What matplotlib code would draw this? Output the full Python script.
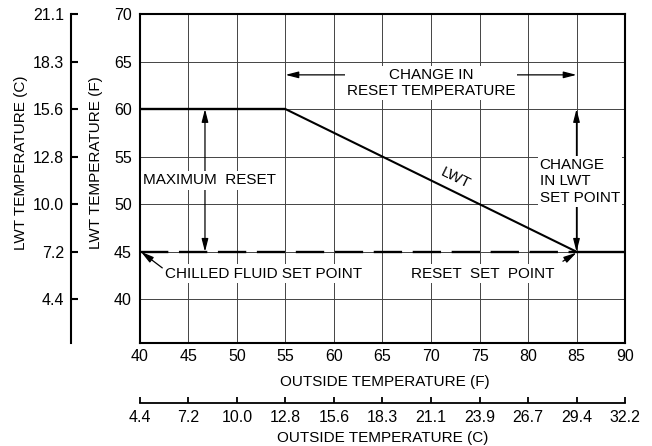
import matplotlib
matplotlib.use('Agg')
import matplotlib.pyplot as plt

plt.rcParams['font.family'] = ['Liberation Sans', 'DejaVu Sans']
plt.rcParams['font.size'] = 11
plt.rcParams['xtick.labelsize'] = 11.5
plt.rcParams['ytick.labelsize'] = 11.5

# outside temperature ticks (F) and Celsius equivalents
out_f = [40, 45, 50, 55, 60, 65, 70, 75, 80, 85, 90]
out_c = ['4.4', '7.2', '10.0', '12.8', '15.6', '18.3', '21.1', '23.9', '26.7', '29.4', '32.2']
# leaving water temperature ticks (F) and Celsius equivalents
lwt_f = [40, 45, 50, 55, 60, 65, 70]
lwt_c = ['4.4', '7.2', '10.0', '12.8', '15.6', '18.3', '21.1']

# LWT reset schedule
lwt_x = [40, 55, 85, 90]
lwt_y = [60, 60, 45, 45]
set_point = 45
max_lwt = 60
reset_start = 55
reset_end = 85

fig = plt.figure(figsize=(6.52, 4.46), dpi=100)
ax = fig.add_axes([0.2147, 0.2309, 0.7439, 0.7377])
ax.set_xlim(40, 90)
ax.set_ylim(35.4, 70)
ax.set_xticks(out_f)
ax.set_yticks(lwt_f)
ax.grid(True, color='#444444', lw=0.7)
ax.tick_params(length=0)
ax.tick_params(axis='x', pad=4)
ax.tick_params(axis='y', pad=6)
for s in ax.spines.values():
    s.set_linewidth(1.5)

ax.set_xlabel('OUTSIDE TEMPERATURE (F)')
ax.xaxis.set_label_coords(0.505, -0.097)
ax.set_ylabel('LWT TEMPERATURE (F)')
ax.yaxis.set_label_coords(-0.076, 0.547)

# main curve
ax.plot(lwt_x[:2], lwt_y[:2], color='black', lw=1.7, solid_capstyle='butt')
ax.plot(lwt_x[1:3], lwt_y[1:3], color='black', lw=1.5)
ax.plot(lwt_x[2:], lwt_y[2:], color='black', lw=1.7, solid_capstyle='butt')
ax.plot([40, reset_end], [set_point, set_point], color='black', lw=1.7,
        dashes=(12, 4.5), dash_capstyle='butt')

head = dict(arrowstyle='<|-|>,head_length=0.7,head_width=0.18', color='black',
            lw=0.9, shrinkA=0, shrinkB=0)
one = dict(arrowstyle='-|>,head_length=0.7,head_width=0.18', color='black',
           lw=0.9, shrinkA=0, shrinkB=0)
box = dict(facecolor='white', edgecolor='none', pad=1.5)

# change in reset temperature
ax.annotate('', xy=(reset_start, 63.6), xytext=(reset_end, 63.6), arrowprops=head)
ax.text(70, 62.75, 'CHANGE IN\nRESET TEMPERATURE', ha='center', va='center',
        linespacing=1.15, bbox=box, zorder=5)

# maximum reset
ax.annotate('', xy=(46.7, max_lwt), xytext=(46.7, set_point), arrowprops=head)
ax.text(47.2, 52.5, 'MAXIMUM  RESET', ha='center', va='center', bbox=box, zorder=5)

# change in LWT set point
ax.annotate('', xy=(reset_end, max_lwt), xytext=(reset_end, set_point), arrowprops=head)
ax.text(81.2, 52.4, 'CHANGE\nIN LWT\nSET POINT', ha='left', va='center',
        linespacing=1.2, bbox=box, zorder=5)

# set point labels
ax.annotate('', xy=(40.1, set_point), xytext=(42.3, 43.3), arrowprops=one)
ax.text(42.6, 42.7, 'CHILLED FLUID SET POINT', ha='left', va='center',
        bbox=box, zorder=5)
ax.annotate('', xy=(85, set_point - 0.1), xytext=(83.6, 44.0), arrowprops=one)
ax.text(75.3, 42.7, 'RESET  SET  POINT', ha='center', va='center',
        bbox=box, zorder=5)

ax.text(72.5, 52.7, 'LWT', ha='center', va='center', rotation=-26)

# Celsius y axis on the far left
ay = ax.twinx()
ay.set_ylim(ax.get_ylim())
ay.yaxis.tick_left()
ay.set_yticks(lwt_f)
ay.set_yticklabels(lwt_c)
ay.tick_params(direction='in', length=5, width=1.5, pad=5)
for k in ['top', 'right', 'bottom']:
    ay.spines[k].set_visible(False)
ay.spines['left'].set_position(('outward', 49.7))
ay.spines['left'].set_linewidth(1.5)
ay.patch.set_visible(False)
ay.set_ylabel('LWT TEMPERATURE (C)')
ay.yaxis.set_label_position('left')
ay.yaxis.set_label_coords(-0.231, 0.547)

# Celsius x axis below
axc = ax.twiny()
axc.set_xlim(ax.get_xlim())
axc.xaxis.tick_bottom()
axc.set_xticks(out_f)
axc.set_xticklabels(out_c)
axc.tick_params(direction='in', length=4, width=1.3, pad=5)
for k in ['top', 'right', 'left']:
    axc.spines[k].set_visible(False)
axc.spines['bottom'].set_position(('outward', 43))
axc.spines['bottom'].set_linewidth(1.3)
axc.patch.set_visible(False)
axc.set_xlabel('OUTSIDE TEMPERATURE (C)')
axc.xaxis.set_label_position('bottom')
axc.xaxis.set_label_coords(0.5, -0.267)

fig.savefig('out.png', dpi=100)
